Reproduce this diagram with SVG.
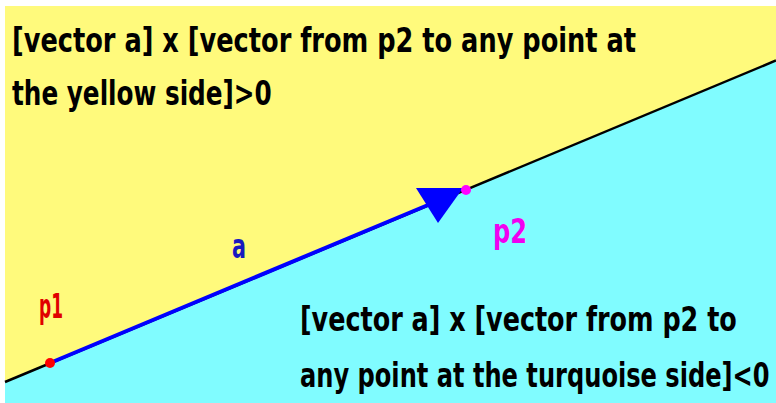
<svg xmlns="http://www.w3.org/2000/svg" width="776" height="403" viewBox="0 0 776 403">
<style>
.t{font-family:"DejaVu Sans Condensed","DejaVu Sans",sans-serif;font-weight:bold;font-size:33px;font-stretch:condensed}
.main{fill:#000}
</style>
<rect width="776" height="403" fill="#fff"/>
<polygon points="5,6 776,6 776,60.5 5,382" fill="#FFFA7C"/>
<polygon points="5,382 776,60.5 776,403 5,403" fill="#80FCFF"/>
<g id="connectors">
<line x1="5" y1="382" x2="776" y2="60.5" stroke="#000" stroke-width="2.5"/>
<line x1="50" y1="363" x2="440" y2="200" stroke="#0000FF" stroke-width="4"/>
<polygon points="416,188 463,188 438,223" fill="#0000FF"/>
</g>
<g id="p1">
<circle cx="50" cy="363" r="5" fill="#FF0000"/>
<text class="t" x="39" y="318" fill="#E00000" textLength="24" lengthAdjust="spacingAndGlyphs">p1</text>
</g>
<g id="p2">
<circle cx="466" cy="190" r="5" fill="#FF00FF"/>
<text class="t" x="493" y="243" fill="#F000F0" textLength="34" lengthAdjust="spacingAndGlyphs">p2</text>
</g>
<g id="a">
<text class="t" x="232" y="258" fill="#1818C0" textLength="14" lengthAdjust="spacingAndGlyphs">a</text>
</g>
<g id="yellow-label">
<text class="t main" transform="translate(12,52) scale(0.78,1)" textLength="800" lengthAdjust="spacingAndGlyphs">[vector a] x [vector from p2 to any point at</text>
<text class="t main" transform="translate(12,105) scale(0.78,1)" textLength="333" lengthAdjust="spacingAndGlyphs">the yellow side]&gt;0</text>
</g>
<g id="turquoise-label">
<text class="t main" transform="translate(300,331) scale(0.78,1)" textLength="560" lengthAdjust="spacingAndGlyphs">[vector a] x [vector from p2 to</text>
<text class="t main" transform="translate(300,387) scale(0.78,1)" textLength="602" lengthAdjust="spacingAndGlyphs">any point at the turquoise side]&lt;0</text>
</g>
</svg>
